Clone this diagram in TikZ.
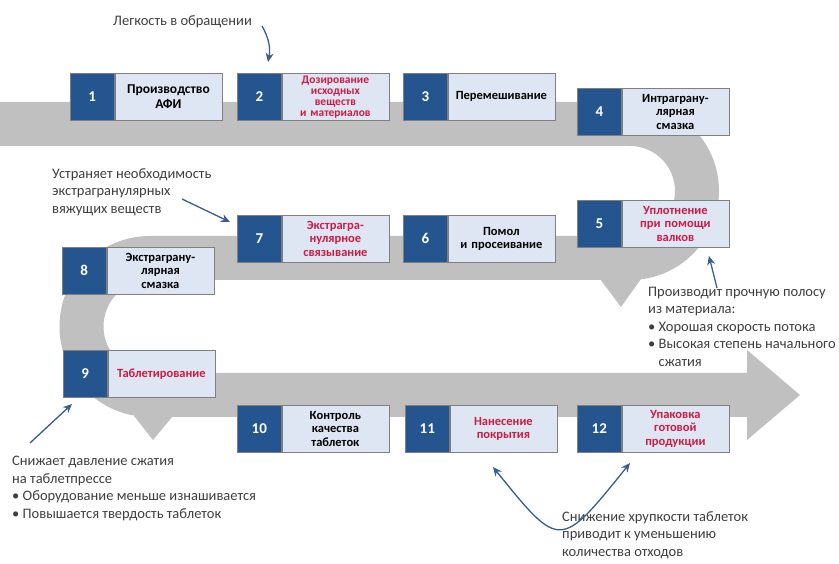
\documentclass[tikz,border=0pt]{standalone}
\usepackage{fontspec}
\setmainfont{Carlito}
\usetikzlibrary{arrows.meta}

\definecolor{bandgray}{HTML}{C0C0C0}
\definecolor{numblue}{HTML}{25558F}
\definecolor{boxfill}{HTML}{DDE6F2}
\definecolor{boxline}{HTML}{7F7F7F}
\definecolor{redtext}{HTML}{CC1B45}
\definecolor{notetext}{HTML}{3F3F3F}
\definecolor{arrowblue}{HTML}{3A5D8C}

\tikzset{
	numsq/.style={fill=numblue, draw=boxline, line width=0.6pt, minimum width=44pt, minimum height=47pt, inner sep=0pt, text=white, font=\bfseries\fontsize{15}{17}\selectfont, anchor=north west},
	txtbox/.style={fill=boxfill, draw=boxline, line width=0.6pt, minimum width=107pt, minimum height=47pt, text width=105pt, inner sep=1pt, align=center, anchor=west, font=\bfseries\fontsize{12.5}{13.5}\selectfont},
	redbox/.style={txtbox, text=redtext},
	note/.style={anchor=north west, align=left, text=notetext, inner sep=0pt, font=\fontsize{14.5}{17.5}\selectfont},
	notearrow/.style={draw=arrowblue, line width=1.3pt, -{Stealth[length=9pt, width=8pt]}}
}

\begin{document}
\begin{tikzpicture}[x=1pt, y=1pt]

	\useasboundingbox (0,0) rectangle (839,564);
	\fill[white] (0,0) rectangle (839,564);

	% gray band
	\fill[bandgray] (0,462) -- (630,462) arc[start angle=90, end angle=-90, radius=89]
		-- (150,284) arc[start angle=90, end angle=270, radius=46.5]
		-- (747,191) -- (747,214) -- (800,169) -- (747,124) -- (747,147)
		-- (150,147) arc[start angle=270, end angle=90, radius=90.5]
		-- (630,328) arc[start angle=-90, end angle=90, radius=45]
		-- (0,418) -- cycle;
	\fill[bandgray] (600,285) -- (641,285) -- (621,257) -- cycle;
	\fill[bandgray] (134,148) -- (173,148) -- (153,124) -- cycle;

	% row 1
	\node[numsq] (n1) at (70,491) {1};
	\node[txtbox, font=\bfseries\fontsize{13.5}{15.5}\selectfont] (t1) at (n1.east) {Производство\\АФИ};
	\node[numsq] (n2) at (237,491) {2};
	\node[redbox, font=\bfseries\fontsize{11.5}{11}\selectfont] (t2) at (n2.east) {Дозирование\\исходных\\веществ\\и материалов};
	\node[numsq] (n3) at (403,491) {3};
	\node[txtbox] (t3) at (n3.east) {Перемешивание};
	\node[numsq] (n4) at (577,476) {4};
	\node[txtbox] (t4) at (n4.east) {Интраграну-\\лярная\\смазка};

	% row 2
	\node[numsq] (n5) at (577,364) {5};
	\node[redbox] (t5) at (n5.east) {Уплотнение\\при помощи\\валков};
	\node[numsq] (n6) at (403,349) {6};
	\node[txtbox] (t6) at (n6.east) {Помол\\и просеивание};
	\node[numsq] (n7) at (237,349) {7};
	\node[redbox] (t7) at (n7.east) {Экстрагра-\\нулярное\\связывание};
	\node[numsq] (n8) at (62,317) {8};
	\node[txtbox] (t8) at (n8.east) {Экстраграну-\\лярная\\смазка};

	% row 3
	\node[numsq] (n9) at (63,214) {9};
	\node[redbox] (t9) at (n9.east) {Таблетирование};
	\node[numsq] (n10) at (237,159) {10};
	\node[txtbox] (t10) at (n10.east) {Контроль\\качества\\таблеток};
	\node[numsq] (n11) at (405,159) {11};
	\node[redbox] (t11) at (n11.east) {Нанесение\\покрытия};
	\node[numsq] (n12) at (577,159) {12};
	\node[redbox] (t12) at (n12.east) {Упаковка\\готовой\\продукции};

	% notes
	\node[note] (legk) at (113,549) {Легкость в обращении};
	\node[note] (ustr) at (52,396) {Устраняет необходимость\\экстрагранулярных\\вяжущих веществ};
	\node[note] (proiz) at (648,277) {Производит прочную полосу\\из материала:\\
		\textbullet\ Хорошая скорость потока\\
		\textbullet\ Высокая степень начального\\
		\hphantom{\textbullet\ }сжатия};
	\node[note] (snizh) at (12,108) {Снижает давление сжатия\\на таблетпрессе\\
		\textbullet\ Оборудование меньше изнашивается\\
		\textbullet\ Повышается твердость таблеток};
	\node[note] (hrup) at (562,53) {Снижение хрупкости таблеток\\приводит к уменьшению\\количества отходов};

	\coordinate (a1s) at (262,538);
	\coordinate (a1e) at (268,502);
	\coordinate (a2s) at (182,365);
	\coordinate (a2e) at (230,342);
	\coordinate (a3s) at (717,276);
	\coordinate (a3e) at (709,308);
	\coordinate (a4s) at (30,121);
	\coordinate (a4e) at (72,160);
	\coordinate (a5s) at (493,97);
	\coordinate (a5e) at (630,101);

	\draw[notearrow] (a1s) to[bend left=20] (a1e);
	\draw[notearrow] (a2s) -- (a2e);
	\draw[notearrow] (a3s) -- (a3e);
	\draw[notearrow] (a4s) -- (a4e);
	\draw[notearrow, {Stealth[length=9pt, width=8pt]}-{Stealth[length=9pt, width=8pt]}] (a5s) .. controls (560,14) .. (a5e);

\end{tikzpicture}
\end{document}
